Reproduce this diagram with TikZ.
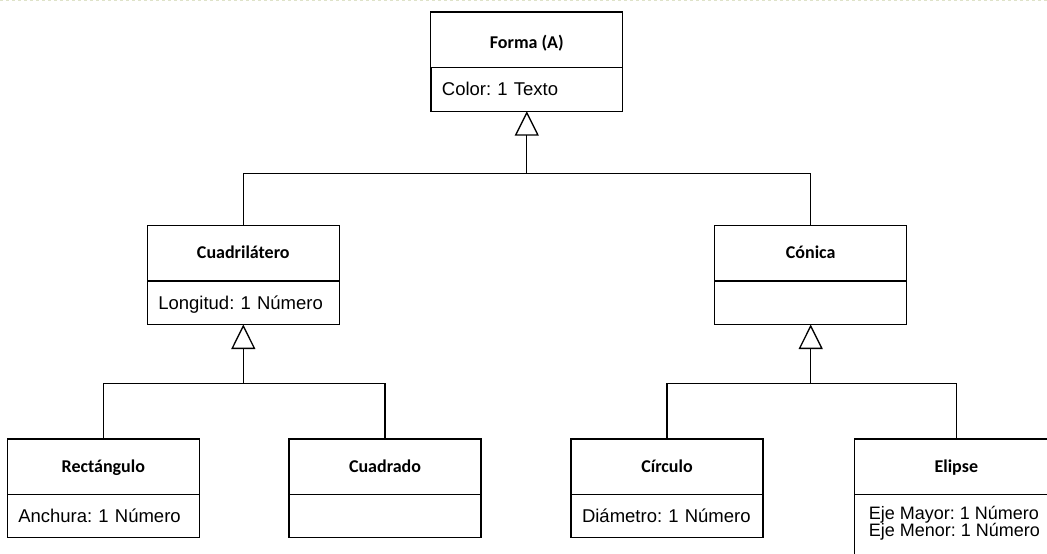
\documentclass[tikz,border=0pt]{standalone}
\usepackage{fontspec}
\setmainfont{Liberation Sans}
\newfontfamily\calibri{Carlito}
\usetikzlibrary{arrows.meta}
\definecolor{pagedash}{RGB}{222,226,200}
\frenchspacing
\tikzset{
  classtitle/.style={draw, rectangle, anchor=north, minimum width=192pt,
    inner xsep=0pt, inner ysep=0pt, outer sep=0pt, text height=33pt, text depth=22.3pt,
    font=\calibri\bfseries\fontsize{18}{20}\selectfont},
  classattr/.style={draw, rectangle, anchor=north, text width=170pt,
    inner xsep=11pt, inner ysep=0pt, outer sep=0pt, align=left, text height=28pt,
    text depth=15.5pt, font=\fontsize{18.5}{20}\selectfont},
  attrline/.style={anchor=base west, inner sep=0pt,
    font=\fontsize{18}{16}\selectfont},
  inherit/.style={-{Triangle[open, length=24.5pt, width=24pt]}},
}
\begin{document}
\begin{tikzpicture}[x=1pt, y=-1pt, line width=1.3pt]
\useasboundingbox (0,0) rectangle (1047,554);
\clip (0,0) rectangle (1047,554);

% page edge
\draw[pagedash, line width=1pt, dash pattern=on 3pt off 3pt] (0,0.5) -- (1047,0.5);

% root class
\node[classtitle, text height=36.3pt, text depth=19.4pt] (formaT) at (526.8,12) {Forma (A)};
\node[classattr, text width=169.7pt] (formaA) at (formaT.south) {Color: 1 Texto};

% second level
\node[classtitle] (cuadT) at (243.3,225.7) {Cuadrilátero};
\node[classattr] (cuadA) at (cuadT.south) {Longitud: 1 Número};
\node[classtitle] (conT) at (810.7,225.7) {Cónica};
\node[classattr] (conA) at (conT.south) {};

% leaves
\node[classtitle] (rectT) at (103.3,439) {Rectángulo};
\node[classattr] (rectA) at (rectT.south) {Anchura: 1 Número};
\node[classtitle] (cuadradoT) at (385,439) {Cuadrado};
\node[classattr] (cuadradoA) at (cuadradoT.south) {};
\node[classtitle] (circT) at (667,439) {Círculo};
\node[classattr] (circA) at (circT.south) {Diámetro: 1 Número};
\node[classtitle, minimum width=204pt] (elipseT) at (956.3,439) {Elipse};
\node[draw, rectangle, anchor=north, minimum width=204pt, minimum height=90pt,
      inner sep=0pt, outer sep=0pt] (elipseA) at (elipseT.south) {};
\node[attrline] (elipseMayor) at ([xshift=14pt, yshift=-25.3pt]elipseA.north west) {Eje Mayor: 1 Número};
\node[attrline] (elipseMenor) at ([xshift=14pt, yshift=-41.9pt]elipseA.north west) {Eje Menor: 1 Número};

% generalisation connectors
\coordinate (busTop) at (526.8,173.3);
\draw[inherit] (busTop) -- (formaA.south);
\draw (cuadT.north) |- (busTop) -| (conT.north);

\coordinate (busLeft) at (243.3,383.7);
\draw[inherit] (busLeft) -- (cuadA.south);
\draw (rectT.north) |- (busLeft) -| (cuadradoT.north);

\coordinate (busRight) at (810.7,383.7);
\draw[inherit] (busRight) -- (conA.south);
\draw (circT.north) |- (busRight) -| (elipseT.north);
\end{tikzpicture}
\end{document}
